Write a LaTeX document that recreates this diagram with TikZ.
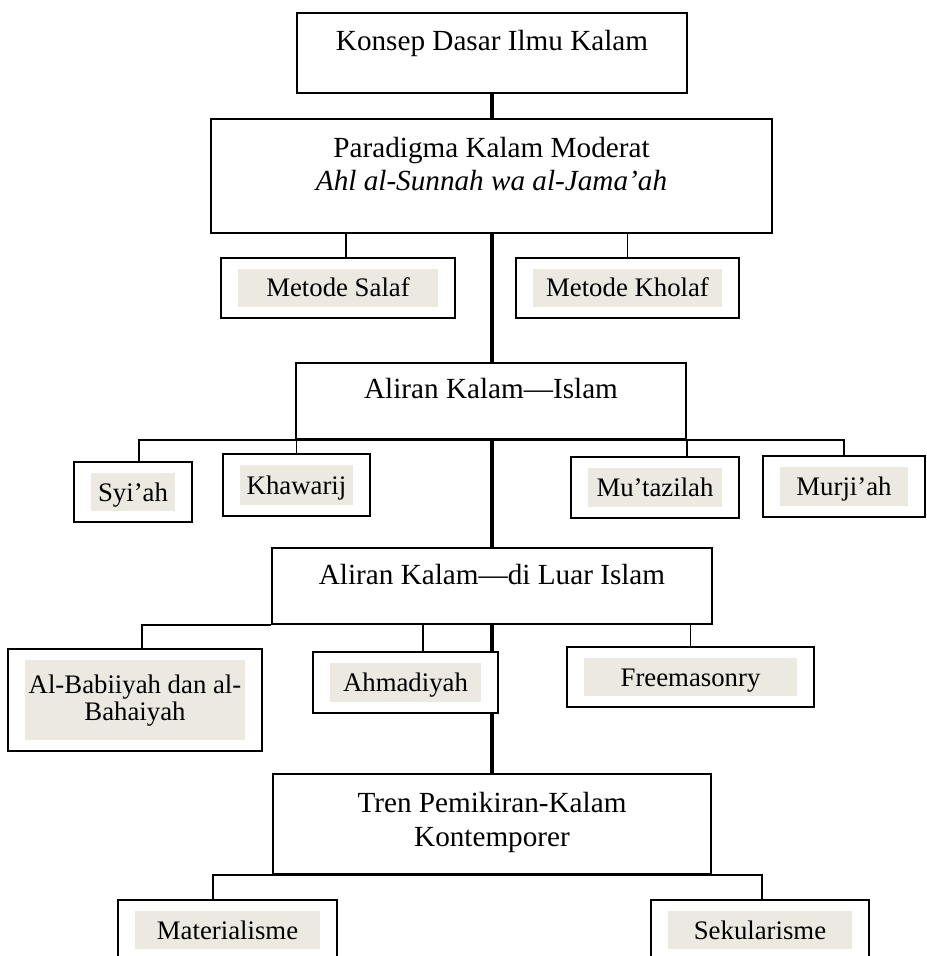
\documentclass[tikz,border=0pt]{standalone}
\usepackage{fontspec}
\setmainfont{Liberation Serif}
\usetikzlibrary{backgrounds}
\definecolor{leafshade}{RGB}{236,233,224}

\begin{document}
\begin{tikzpicture}[
        x=0.411pt, y=-0.411pt,
        topicbox/.style={draw, fill=white, line width=0.8pt, align=center, inner sep=0pt, anchor=north, font=\fontsize{12pt}{13.6pt}\selectfont},
        leafbox/.style={draw, fill=white, line width=0.8pt, align=center, inner sep=0pt, minimum height=24.7pt, text height=9pt, text depth=1.6pt, font=\fontsize{11pt}{11.1pt}\selectfont,
            path picture={\fill[leafshade] ([shift={(7pt,4.5pt)}]path picture bounding box.south west) rectangle ([shift={(-7pt,-4.5pt)}]path picture bounding box.north east);}},
        link/.style={line width=0.7pt},
        spine/.style={line width=1.8pt},
    ]
        \useasboundingbox (0,0) rectangle (926,956);

        % Main topics
        \node[topicbox, minimum width=160.3pt, text height=15.6pt, text depth=17.3pt] (konsep) at (492, 12) {Konsep Dasar Ilmu Kalam};
        \node[topicbox, minimum width=230.6pt, text height=29.6pt, text depth=17.3pt] (paradigma) at (491.5, 118) {Paradigma Kalam Moderat \\ \textit{Ahl al-Sunnah wa al-Jama’ah}};
        \node[topicbox, minimum width=160.3pt, text height=14.8pt, text depth=16.4pt] (islam) at (491, 362) {Aliran Kalam—Islam};
        \node[topicbox, minimum width=180.8pt, text height=15.2pt, text depth=16pt] (luar) at (492, 547) {Aliran Kalam—di Luar Islam};
        \node[topicbox, minimum width=180pt, text height=29.6pt, text depth=11.5pt] (tren) at (492, 773) {Tren Pemikiran-Kalam \\ Kontemporer};

        % Methods
        \node[leafbox, minimum width=96.2pt] (salaf) at (338, 288) {Metode Salaf};
        \node[leafbox, minimum width=91.7pt] (kholaf) at (627.5, 288) {Metode Kholaf};

        % Schools within Islam
        \node[leafbox, minimum width=48.5pt] (syiah) at (133, 492) {Syi’ah};
        \node[leafbox, minimum width=60.4pt, minimum height=25.5pt] (khawarij) at (296.5, 485) {Khawarij};
        \node[leafbox, minimum width=69pt, minimum height=25.1pt] (mutazilah) at (655, 487.5) {Mu’tazilah};
        \node[leafbox, minimum width=66.6pt, minimum height=25.1pt] (murjiah) at (844, 486.5) {Murji’ah};

        % Schools outside Islam
        \node[leafbox, minimum width=104.4pt, minimum height=41.9pt, text height=20.7pt, text depth=3.5pt] (babiiyah) at (135, 700) {Al-Babiiyah dan al-\\Bahaiyah};
        \node[leafbox, minimum width=76pt, minimum height=25.1pt] (ahmadiyah) at (405.5, 682.5) {Ahmadiyah};
        \node[leafbox, minimum width=101.5pt] (freemasonry) at (690.5, 677) {Freemasonry};

        % Contemporary trends
        \node[leafbox, minimum width=90pt] (materialisme) at (227.5, 930) {Materialisme};
        \node[leafbox, minimum width=89.6pt] (sekularisme) at (760, 930) {Sekularisme};

        % Spine behind the main topics
        \begin{scope}[on background layer]
            \draw[spine] (konsep) -- (tren);
        \end{scope}

        % Branches
        \draw[link] ([xshift=3.3pt]salaf.north) -- ([xshift=3.3pt]salaf.north |- paradigma.south);
        \draw[link] (kholaf.north) -- (kholaf.north |- paradigma.south);

        \draw[link] ([xshift=2.5pt]syiah.north) |- (islam.south) -| (murjiah.north);
        \draw[link] (khawarij.north) -- (khawarij.north |- islam.south);
        \draw[link] (islam.south east) -- (islam.south east |- mutazilah.north);

        \draw[link] ([xshift=2.9pt]babiiyah.north) |- (luar.south west);
        \draw[link] ([xshift=7.2pt]ahmadiyah.north) -- ([xshift=7.2pt]ahmadiyah.north |- luar.south);
        \draw[link] (freemasonry.north) -- (freemasonry.north |- luar.south);

        \draw[link] ([xshift=-6pt]materialisme.north) |- (tren.south) -| ([xshift=0.8pt]sekularisme.north);
\end{tikzpicture}
\end{document}
